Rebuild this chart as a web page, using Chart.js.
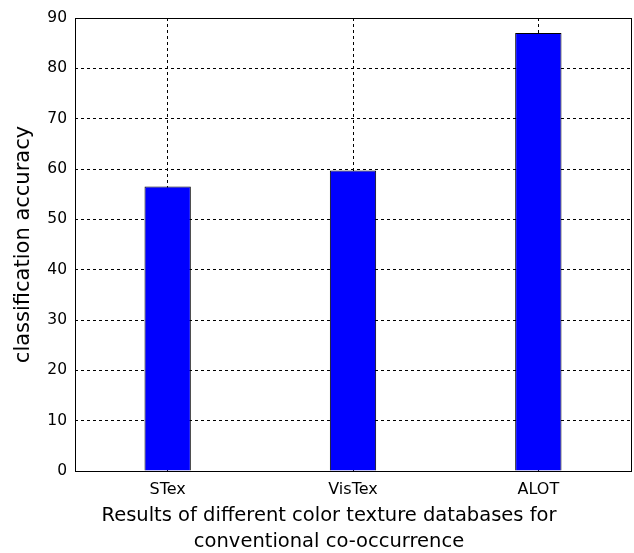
<!DOCTYPE html>
<html>
<head>
<meta charset="utf-8">
<script src="https://cdn.jsdelivr.net/npm/chart.js@4"></script>
<style>
  html, body { margin: 0; padding: 0; background: #fff; }
  #wrap { width: 634px; height: 553px; }
</style>
</head>
<body>
<div id="wrap"><canvas id="chart" width="634" height="553"></canvas></div>
<script>
const categories = ['STex', 'VisTex', 'ALOT'];
const accuracy = [56.5, 59.7, 87.0];
const yTicks = [0, 10, 20, 30, 40, 50, 60, 70, 80, 90];
const yLabel = 'classification accuracy';
const xCaption = ['Results of different color texture databases for', 'conventional co-occurrence'];

const FONT = '"DejaVu Sans", Arial, Helvetica, sans-serif';

// solid box round the plot area, like matlab's axes
const framePlugin = {
    id: 'frame',
    afterDatasetsDraw(chart) {
        const a = chart.chartArea;
        const ctx = chart.ctx;
        ctx.save();
        ctx.strokeStyle = '#000';
        ctx.lineWidth = 1;
        ctx.setLineDash([]);
        ctx.strokeRect(Math.round(a.left) + 0.5, Math.round(a.top) + 0.5,
            Math.round(a.right - a.left), Math.round(a.bottom - a.top));
        ctx.restore();
    }
};

// two line caption under the x axis
const captionPlugin = {
    id: 'caption',
    afterDraw(chart) {
        const ctx = chart.ctx;
        ctx.save();
        ctx.fillStyle = '#000';
        ctx.font = '19.5px ' + FONT;
        ctx.textAlign = 'center';
        ctx.textBaseline = 'middle';
        ctx.fillText(xCaption[0], 329, 516);
        ctx.fillText(xCaption[1], 329, 542);
        ctx.restore();
    }
};

const ctx = document.getElementById('chart').getContext('2d');
new Chart(ctx, {
    type: 'bar',
    data: {
        labels: categories,
        datasets: [{
            data: accuracy,
            backgroundColor: '#0000ff',
            borderColor: '#000',
            borderWidth: 1,
            categoryPercentage: 1,
            barPercentage: 0.25
        }]
    },
    options: {
        responsive: false,
        animation: false,
        layout: { padding: { top: 18, right: 3, left: 0, bottom: 0 } },
        plugins: {
            legend: { display: false },
            tooltip: { enabled: false }
        },
        scales: {
            x: {
                grid: {
                    offset: false,
                    color: '#000',
                    lineWidth: 1,
                    drawTicks: false
                },
                border: { display: false, dash: [3, 3] },
                ticks: {
                    color: '#000',
                    font: { family: FONT, size: 16 },
                    padding: 9
                },
                afterFit(scale) { scale.height = 82; }
            },
            y: {
                min: 0,
                max: 90,
                afterBuildTicks(scale) { scale.ticks = yTicks.map(v => ({ value: v })); },
                grid: {
                    color: '#000',
                    lineWidth: 1,
                    drawTicks: false
                },
                border: { display: false, dash: [3, 3] },
                ticks: {
                    color: '#000',
                    font: { family: FONT, size: 15.5 },
                    padding: 8
                },
                title: {
                    display: true,
                    text: yLabel,
                    color: '#000',
                    font: { family: FONT, size: 21 },
                    padding: { top: 11, bottom: 0 }
                },
                afterFit(scale) { scale.width = 75; }
            }
        }
    },
    plugins: [framePlugin, captionPlugin]
});
</script>
</body>
</html>
